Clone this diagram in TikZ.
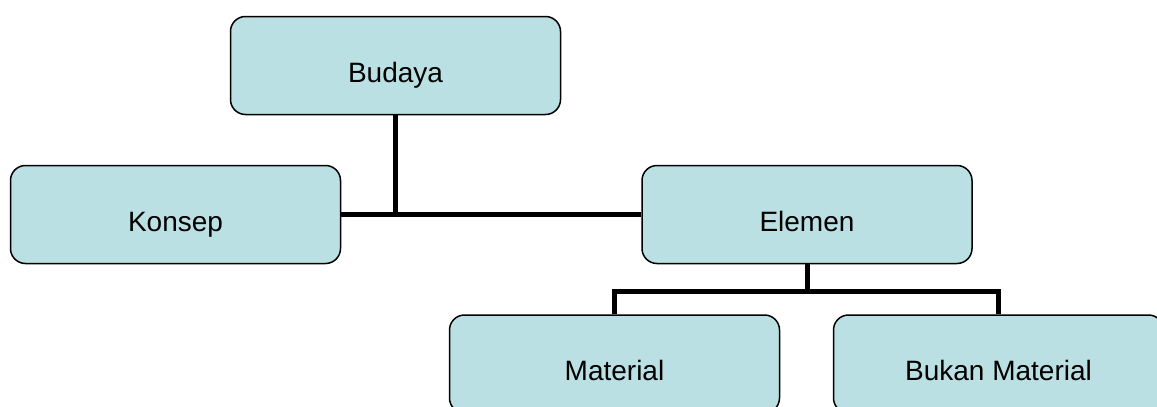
\documentclass[tikz,border=0pt]{standalone}
\usepackage{fontspec}
\setmainfont{Liberation Sans}
\definecolor{boxfill}{RGB}{186,224,227}
\begin{document}
\begin{tikzpicture}[x=1pt,y=-1pt,
  box/.style={draw=black, line width=1.5pt, fill=boxfill, rounded corners=15pt,
    minimum width=330pt, minimum height=98pt, inner sep=0pt,
    text height=49pt, text depth=16pt,
    font=\fontsize{28}{30}\selectfont},
  conn/.style={draw=black, line width=5pt, line join=miter}]
\useasboundingbox (0,0) rectangle (1157,407);
\clip (0,0) rectangle (1157,407);
\fill[white] (0,0) rectangle (1157,407);
\node[box] (budaya) at (395.5,65.5) {Budaya};
\node[box] (konsep) at (175.5,214.5) {Konsep};
\node[box] (elemen) at (807,214.5) {Elemen};
\node[box] (material) at (614.5,364) {Material};
\node[box] (bukan) at (998.5,364) {Bukan Material};
\coordinate (ebus) at (806,291);
\draw[conn] (konsep.east) -- (elemen.west);
\draw[conn] (budaya.south) -- (budaya.south |- konsep.east);
\draw[conn] (elemen.south) -- (elemen.south |- ebus);
\draw[conn] (material.north) -- (material.north |- ebus) -- (bukan.north |- ebus) -- (bukan.north);
\end{tikzpicture}
\end{document}
